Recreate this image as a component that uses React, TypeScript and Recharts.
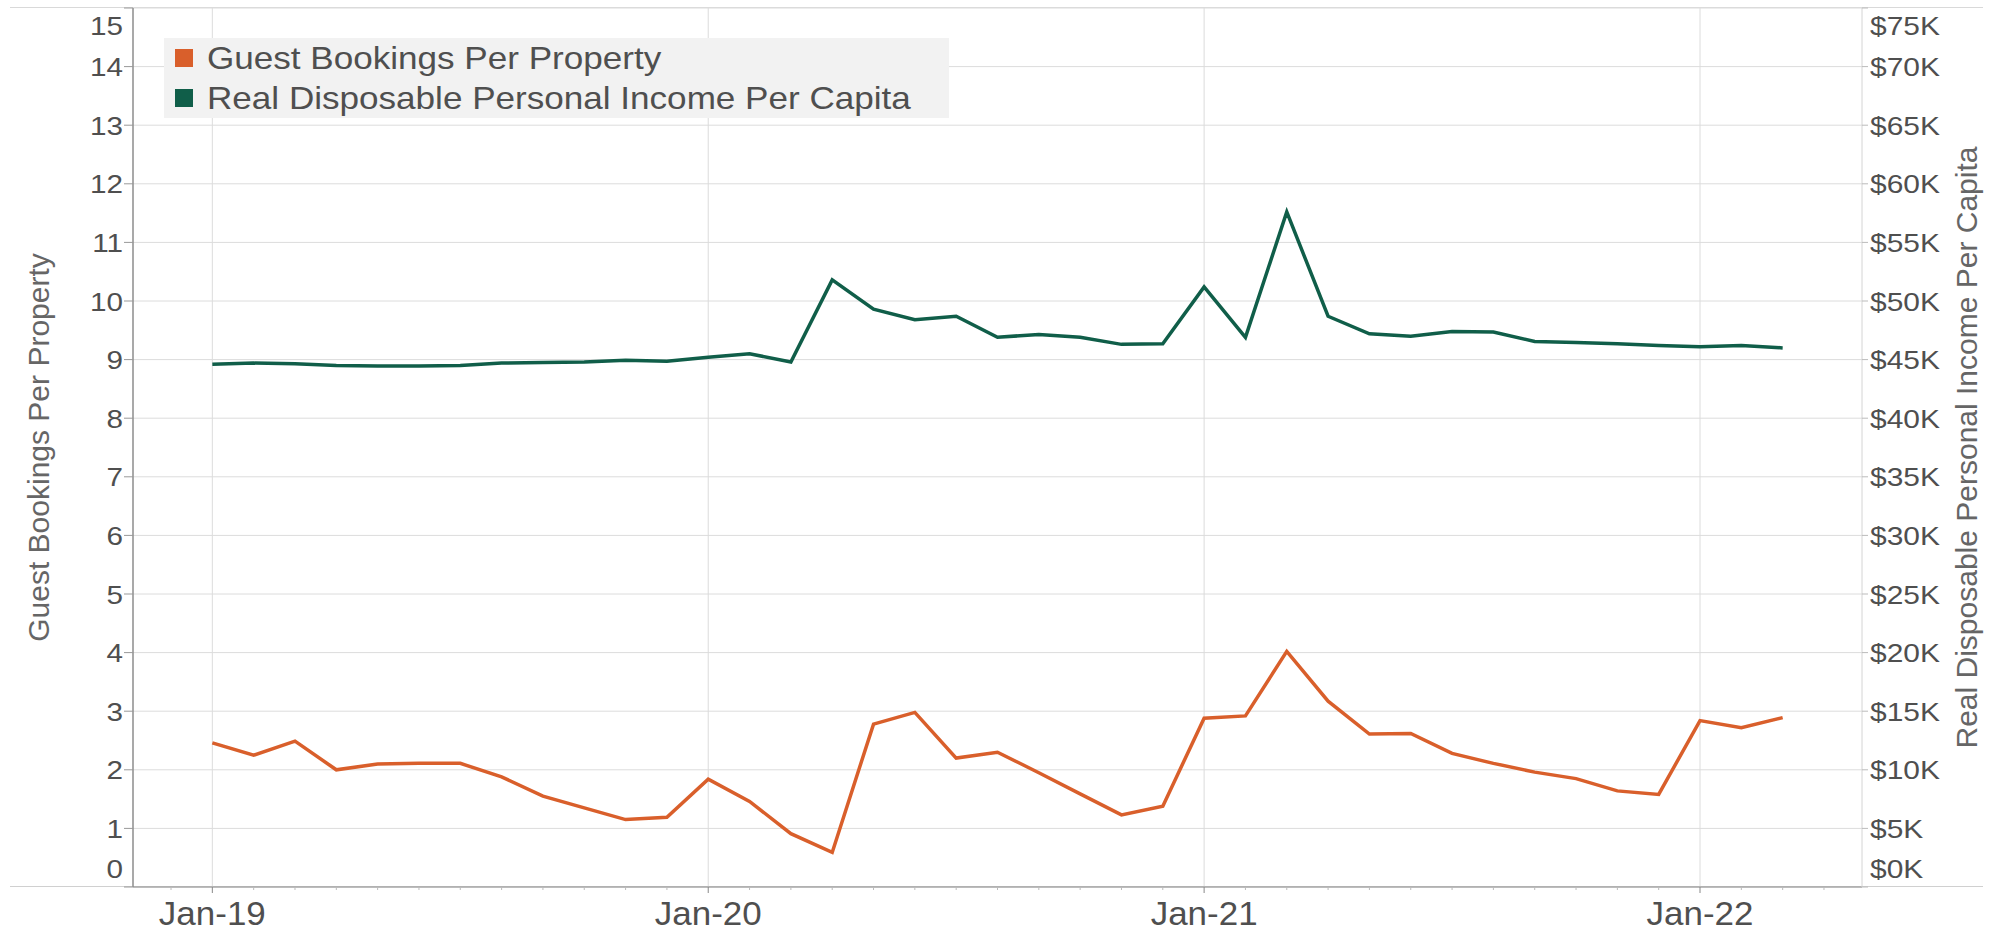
import { LineChart, Line, XAxis, YAxis, CartesianGrid, ReferenceLine, Legend, Label } from 'recharts'

const months = [
  'Jan-19', 'Feb-19', 'Mar-19', 'Apr-19', 'May-19', 'Jun-19', 'Jul-19', 'Aug-19', 'Sep-19', 'Oct-19', 'Nov-19', 'Dec-19',
  'Jan-20', 'Feb-20', 'Mar-20', 'Apr-20', 'May-20', 'Jun-20', 'Jul-20', 'Aug-20', 'Sep-20', 'Oct-20', 'Nov-20', 'Dec-20',
  'Jan-21', 'Feb-21', 'Mar-21', 'Apr-21', 'May-21', 'Jun-21', 'Jul-21', 'Aug-21', 'Sep-21', 'Oct-21', 'Nov-21', 'Dec-21',
  'Jan-22', 'Feb-22', 'Mar-22'
]

const bookings = [
  2.46, 2.25, 2.49, 2.0, 2.1, 2.11, 2.11, 1.88, 1.55, 1.35, 1.15, 1.19,
  1.84, 1.46, 0.91, 0.59, 2.78, 2.98, 2.2, 2.3, 1.95, 1.59, 1.23, 1.38,
  2.88, 2.92, 4.02, 3.17, 2.61, 2.62, 2.28, 2.11, 1.96, 1.85, 1.64, 1.58,
  2.84, 2.72, 2.89
]

const income = [
  44600, 44700, 44650, 44500, 44450, 44450, 44500, 44700, 44750, 44800, 44950, 44850,
  45200, 45500, 44800, 51800, 49300, 48400, 48700, 46900, 47150, 46900, 46300, 46350,
  51200, 46900, 57600, 48700, 47200, 47000, 47400, 47350, 46550, 46450, 46350, 46200,
  46100, 46200, 46000
]

// month index of each January label
const yearTicks = [0, 12, 24, 36]
const yearLabels = ['Jan-19', 'Jan-20', 'Jan-21', 'Jan-22']
// minor monthly tick marks, Dec-18 .. Mar-22+
const monthTicks = [-1, 0, 1, 2, 3, 4, 5, 6, 7, 8, 9, 10, 11, 12, 13, 14, 15, 16, 17, 18, 19, 20, 21, 22, 23, 24, 25, 26, 27, 28, 29, 30, 31, 32, 33, 34, 35, 36, 37, 38, 39]
const leftTicks = [0, 1, 2, 3, 4, 5, 6, 7, 8, 9, 10, 11, 12, 13, 14, 15]
const rightTicks = [0, 5000, 10000, 15000, 20000, 25000, 30000, 35000, 40000, 45000, 50000, 55000, 60000, 65000, 70000, 75000]

const data = months.map((month, i) => ({ m: i, month, bookings: bookings[i], income: income[i] }))

const ORANGE = '#d95f2b'
const GREEN = '#105e49'
const FONT = '"Liberation Sans", Arial, sans-serif'
const LABEL = '#4f4f4f'

function LeftTick({ x, y, payload }: any) {
  const v = payload.value
  const shift = v === 0 ? -19 : v === 15 ? 17 : 0
  return (
    <text transform={`translate(${x},${y + shift}) scale(1.12,1)`} textAnchor="end" dy="0.36em"
      fontSize={26.5} fill={LABEL} fontFamily={FONT}>{v}</text>
  )
}

function RightTick({ x, y, payload }: any) {
  const v = payload.value
  const shift = v === 0 ? -19 : v === 75000 ? 17 : 0
  return (
    <text transform={`translate(${x},${y + shift}) scale(1.13,1)`} textAnchor="start" dy="0.36em"
      fontSize={26.5} fill={LABEL} fontFamily={FONT}>{`$${v / 1000}K`}</text>
  )
}

function MonthTick({ x, y, payload }: any) {
  const i = yearTicks.indexOf(payload.value)
  if (i < 0) return <line x1={x} x2={x} y1={y} y2={y + 3} stroke="#bbb" />
  return (
    <g>
      <line x1={x} x2={x} y1={y} y2={y + 6} stroke="#888" />
      <text transform={`translate(${x},${y + 38}) scale(1.06,1)`} textAnchor="middle"
        fontSize={33} fill={LABEL} fontFamily={FONT}>{yearLabels[i]}</text>
    </g>
  )
}

function AxisTitle({ viewBox, dx, text }: any) {
  const vb = viewBox || { x: 0, y: 8, width: 133, height: 879 }
  const cx = vb.x + dx
  const cy = vb.y + vb.height / 2
  return (
    <text x={cx} y={cy} transform={`rotate(-90, ${cx}, ${cy})`} textAnchor="middle"
      fontSize={30} fill="#666" fontFamily={FONT}>{text}</text>
  )
}

function LegendBox({ payload }: any) {
  return (
    <div style={{ background: '#f2f2f2', width: 785, height: 80, fontFamily: FONT }}>
      {(payload || []).map((p: any) => (
        <div key={p.value} style={{ height: 40, display: 'flex', alignItems: 'center', position: 'relative' }}>
          <div style={{ position: 'absolute', left: 11, width: 18, height: 18, background: p.color }} />
          <span style={{
            position: 'absolute', left: 43, fontSize: 30.5, color: LABEL, whiteSpace: 'nowrap',
            transform: 'scaleX(1.15)', transformOrigin: 'left center', lineHeight: '40px'
          }}>{p.value}</span>
        </div>
      ))}
    </div>
  )
}

export default function App() {
  return (
    <div style={{ position: 'absolute', left: 0, top: 0, width: 1995, height: 932, background: '#fff' }}>
      {/* frame lines that run past the plot area */}
      <div style={{ position: 'absolute', left: 10, top: 7, width: 1973, height: 1, background: '#d9d9d9' }} />
      <div style={{ position: 'absolute', left: 10, top: 886, width: 1973, height: 1, background: '#d0d0d0' }} />
      <div style={{ position: 'absolute', left: 0, top: 0 }}>
        <LineChart width={1995} height={932} data={data} margin={{ top: 8, right: 0, bottom: 0, left: 0 }}>
          <CartesianGrid yAxisId="left" vertical={false} stroke="#dcdcdc" />
          {yearTicks.map(t => (
            <ReferenceLine key={t} yAxisId="left" x={t} stroke="#dcdcdc" />
          ))}
          <XAxis dataKey="m" type="number" domain={[-1.92, 39.92]} ticks={monthTicks} interval={0}
            tick={<MonthTick />} tickLine={false} tickSize={0} tickMargin={0} height={45}
            axisLine={{ stroke: '#8c8c8c' }} />
          <YAxis yAxisId="left" domain={[0, 15]} ticks={leftTicks} interval={0} width={133}
            tick={<LeftTick />} tickSize={9} tickMargin={1}
            tickLine={{ stroke: '#999' }} axisLine={{ stroke: '#8c8c8c', strokeWidth: 1.5 }}>
            <Label content={(props: any) => <AxisTitle {...props} dx={49} text="Guest Bookings Per Property" />} />
          </YAxis>
          <YAxis yAxisId="right" orientation="right" domain={[0, 75000]} ticks={rightTicks} interval={0} width={133}
            tick={<RightTick />} tickSize={6} tickMargin={2}
            tickLine={{ stroke: '#bbb' }} axisLine={{ stroke: '#d4d4d4' }}>
            <Label content={(props: any) => <AxisTitle {...props} dx={115} text="Real Disposable Personal Income Per Capita" />} />
          </YAxis>
          <Legend layout="vertical" align="center" verticalAlign="middle" content={<LegendBox />}
            wrapperStyle={{ left: 164, top: 38, width: 785, height: 80 }} />
          <Line yAxisId="left" type="linear" dataKey="bookings" name="Guest Bookings Per Property"
            stroke={ORANGE} strokeWidth={3.5} dot={false} isAnimationActive={false} />
          <Line yAxisId="right" type="linear" dataKey="income" name="Real Disposable Personal Income Per Capita"
            stroke={GREEN} strokeWidth={3.5} dot={false} isAnimationActive={false} />
        </LineChart>
      </div>
    </div>
  )
}
